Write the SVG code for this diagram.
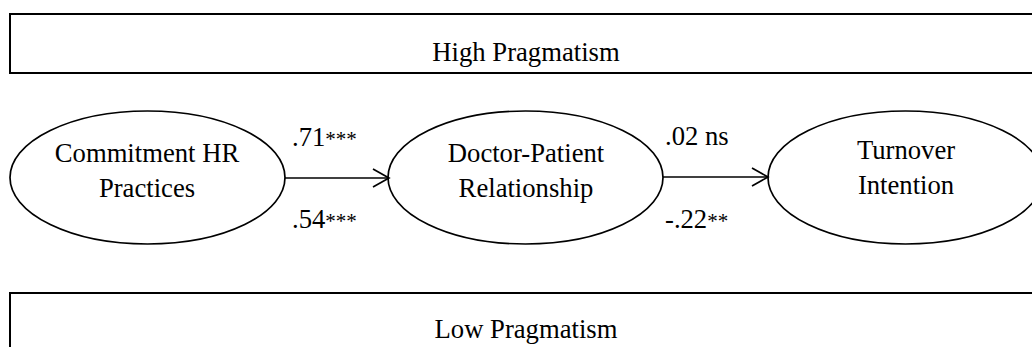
<svg xmlns="http://www.w3.org/2000/svg" width="1032" height="347" viewBox="0 0 1032 347">
<style>
text{font-family:"Liberation Serif","Times New Roman",serif;font-size:26.67px;fill:#000}
.mid{text-anchor:middle}
.ast{font-size:21px}
.box{fill:#fff;stroke:#000;stroke-width:2}
.node{fill:#fff;stroke:#000;stroke-width:1.7}
.edge{fill:none;stroke:#000;stroke-width:1.7}
</style>
<defs>
<marker id="arr" markerWidth="22" markerHeight="22" refX="18" refY="11" orient="auto" markerUnits="userSpaceOnUse">
<path d="M2,2 L18,11 L2,20" fill="none" stroke="#000" stroke-width="1.7"/>
</marker>
</defs>
<rect width="1032" height="347" fill="#fff"/>
<g id="high">
<rect class="box" x="10" y="14" width="1030" height="59"/>
<text class="mid" x="526" y="61">High Pragmatism</text>
</g>
<g id="low">
<rect class="box" x="10" y="293" width="1030" height="70"/>
<text class="mid" x="526" y="338">Low Pragmatism</text>
</g>
<g id="chr">
<ellipse class="node" cx="147.5" cy="177.5" rx="137.5" ry="66.5"/>
<text class="mid" x="147" y="162">Commitment HR</text>
<text class="mid" x="147" y="197">Practices</text>
</g>
<g id="dpr">
<ellipse class="node" cx="525.5" cy="177.5" rx="137.5" ry="66.5"/>
<text class="mid" x="526" y="162">Doctor-Patient</text>
<text class="mid" x="526" y="197">Relationship</text>
</g>
<g id="ti">
<ellipse class="node" cx="905.5" cy="177.5" rx="137.5" ry="66.5"/>
<text class="mid" x="906" y="159">Turnover</text>
<text class="mid" x="906" y="194">Intention</text>
</g>
<g id="connectors">
<line class="edge" x1="285" y1="178" x2="389" y2="178" marker-end="url(#arr)"/>
<line class="edge" x1="663" y1="177" x2="768" y2="177" marker-end="url(#arr)"/>
<text x="292" y="146">.71<tspan class="ast">***</tspan></text>
<text x="292" y="228">.54<tspan class="ast">***</tspan></text>
<text x="665" y="145">.02 ns</text>
<text x="665" y="228">-.22<tspan class="ast">**</tspan></text>
</g>
</svg>
